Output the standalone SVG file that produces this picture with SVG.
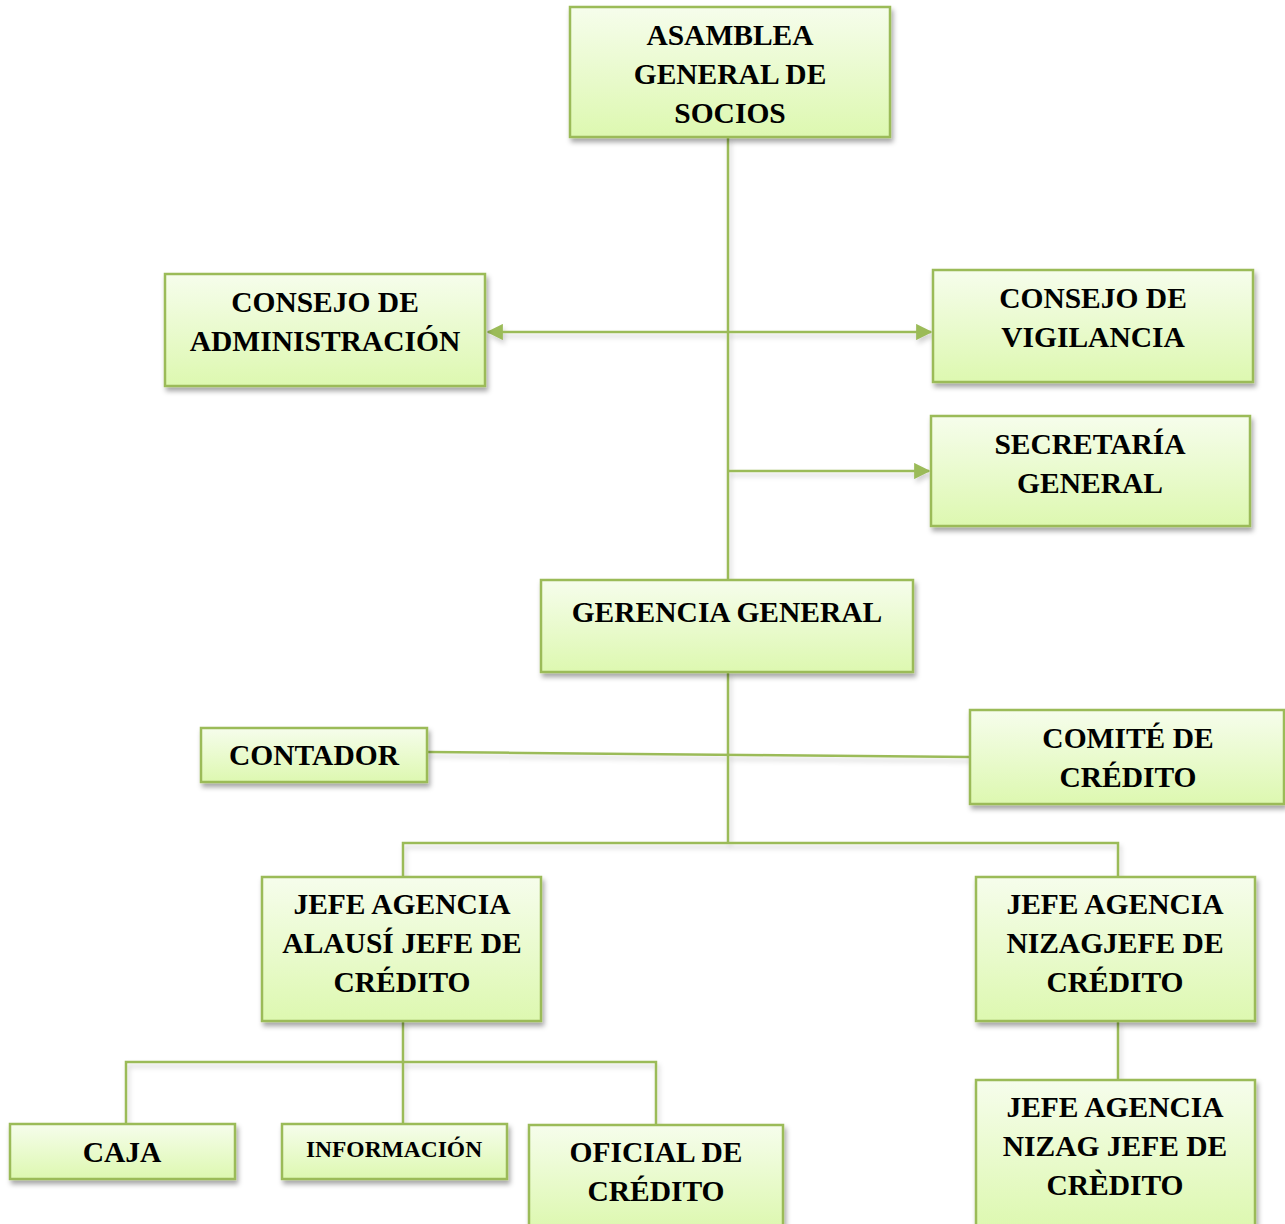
<svg xmlns="http://www.w3.org/2000/svg" width="1285" height="1224" viewBox="0 0 1285 1224">
<defs>
<linearGradient id="g" x1="0" y1="0" x2="0" y2="1">
<stop offset="0" stop-color="#F6FDEC"/>
<stop offset="1" stop-color="#DDF8B0"/>
</linearGradient>
<filter id="sh" x="-10%" y="-10%" width="125%" height="130%">
<feDropShadow dx="2" dy="4" stdDeviation="2.5" flood-color="#000" flood-opacity="0.35"/>
</filter>
<filter id="lsh" x="-5%" y="-5%" width="110%" height="110%">
<feDropShadow dx="2" dy="4" stdDeviation="2.5" flood-color="#000" flood-opacity="0.18"/>
</filter>
<marker id="ah" viewBox="0 0 12 12" refX="11" refY="6" markerWidth="6.5" markerHeight="6.5" orient="auto-start-reverse" markerUnits="strokeWidth">
<path d="M0,0 L12,6 L0,12 Z" fill="#9BBB59"/>
</marker>
</defs>
<style>
.box{fill:url(#g);stroke:#9BBB59;stroke-width:2.5;filter:url(#sh)}
.t{font-family:"Liberation Serif","Times New Roman",serif;font-weight:bold;font-size:29.5px;fill:#000;text-anchor:middle}
.s{font-size:23.5px}
.c{fill:none;stroke:#9BBB59;stroke-width:2.5}
</style>
<g id="connectors" filter="url(#lsh)">
<line class="c" x1="728" y1="137" x2="728" y2="580"/>
<line class="c" x1="488" y1="332" x2="931" y2="332" marker-start="url(#ah)" marker-end="url(#ah)"/>
<line class="c" x1="728" y1="471" x2="929" y2="471" marker-end="url(#ah)"/>
<line class="c" x1="728" y1="672" x2="728" y2="843"/>
<line class="c" x1="427" y1="752" x2="970" y2="757"/>
<polyline class="c" points="403,877 403,843 1118,843 1118,877"/>
<line class="c" x1="403" y1="1021" x2="403" y2="1124"/>
<polyline class="c" points="126,1124 126,1062 656,1062 656,1125"/>
<line class="c" x1="1118" y1="1021" x2="1118" y2="1080"/>
</g>
<g id="asamblea"><rect class="box" x="570" y="7" width="320" height="130"/>
<text class="t" x="730" y="45">ASAMBLEA</text><text class="t" x="730" y="84">GENERAL DE</text><text class="t" x="730" y="123">SOCIOS</text></g>
<g id="consejo-admin"><rect class="box" x="165" y="274" width="320" height="112"/>
<text class="t" x="325" y="312">CONSEJO DE</text><text class="t" x="325" y="351">ADMINISTRACIÓN</text></g>
<g id="consejo-vigilancia"><rect class="box" x="933" y="270" width="320" height="112"/>
<text class="t" x="1093" y="308">CONSEJO DE</text><text class="t" x="1093" y="347">VIGILANCIA</text></g>
<g id="secretaria"><rect class="box" x="931" y="416" width="319" height="110"/>
<text class="t" x="1090" y="454">SECRETARÍA</text><text class="t" x="1090" y="493">GENERAL</text></g>
<g id="gerencia"><rect class="box" x="541" y="580" width="372" height="92"/>
<text class="t" x="727" y="622">GERENCIA GENERAL</text></g>
<g id="contador"><rect class="box" x="201" y="728" width="226" height="54"/>
<text class="t" x="314" y="765">CONTADOR</text></g>
<g id="comite"><rect class="box" x="970" y="710" width="314" height="94"/>
<text class="t" x="1128" y="748">COMITÉ DE</text><text class="t" x="1128" y="787">CRÉDITO</text></g>
<g id="alausi"><rect class="box" x="262" y="877" width="279" height="144"/>
<text class="t" x="402" y="914">JEFE AGENCIA</text><text class="t" x="402" y="953">ALAUSÍ JEFE DE</text><text class="t" x="402" y="992">CRÉDITO</text></g>
<g id="nizag1"><rect class="box" x="976" y="877" width="279" height="144"/>
<text class="t" x="1115" y="914">JEFE AGENCIA</text><text class="t" x="1115" y="953">NIZAGJEFE DE</text><text class="t" x="1115" y="992">CRÉDITO</text></g>
<g id="nizag2"><rect class="box" x="976" y="1080" width="279" height="148"/>
<text class="t" x="1115" y="1117">JEFE AGENCIA</text><text class="t" x="1115" y="1156">NIZAG JEFE DE</text><text class="t" x="1115" y="1195">CRÈDITO</text></g>
<g id="caja"><rect class="box" x="10" y="1124" width="225" height="55"/>
<text class="t" x="122" y="1162">CAJA</text></g>
<g id="informacion"><rect class="box" x="282" y="1124" width="225" height="55"/>
<text class="t s" x="394" y="1157">INFORMACIÓN</text></g>
<g id="oficial"><rect class="box" x="529" y="1125" width="254" height="103"/>
<text class="t" x="656" y="1162">OFICIAL DE</text><text class="t" x="656" y="1201">CRÉDITO</text></g>
</svg>
